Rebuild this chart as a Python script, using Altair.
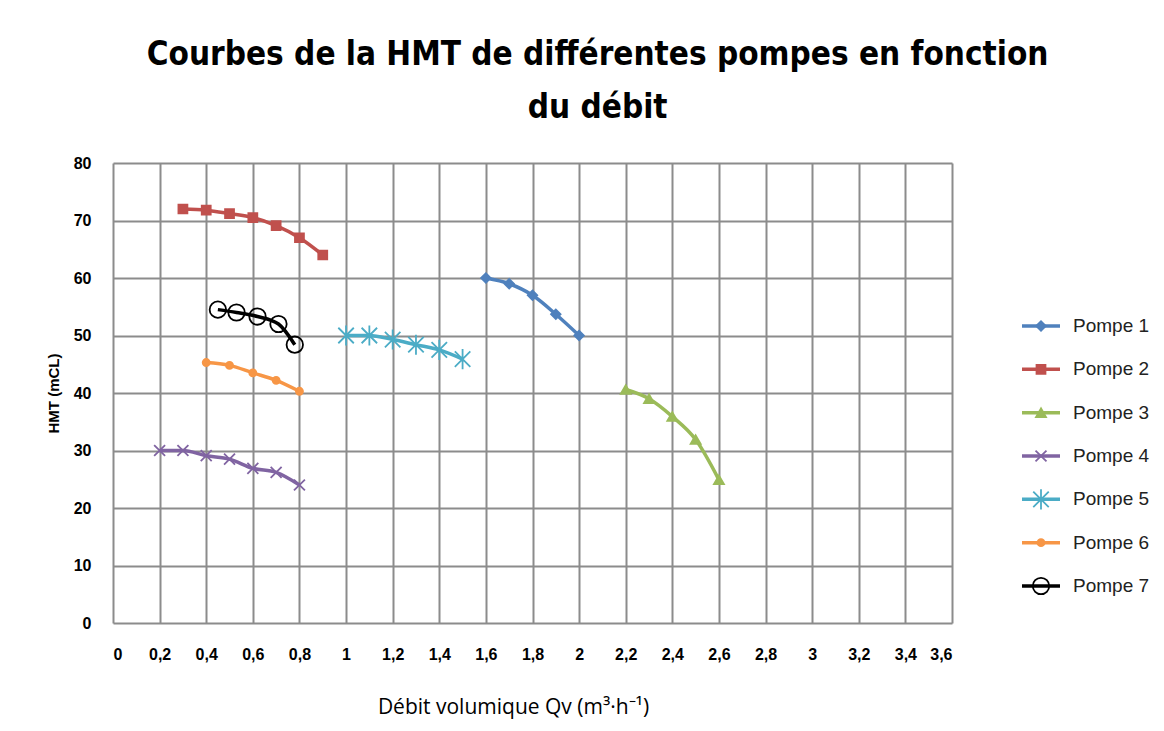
import altair as alt
import pandas as pd

series = ["Pompe 1", "Pompe 2", "Pompe 3", "Pompe 4", "Pompe 5", "Pompe 6", "Pompe 7"]

q1 = [1.6, 1.7, 1.8, 1.9, 2.0]
h1 = [60, 59, 57, 53.7, 50]
q2 = [0.3, 0.4, 0.5, 0.6, 0.7, 0.8, 0.9]
h2 = [72, 71.8, 71.2, 70.5, 69.1, 67, 64]
q3 = [2.2, 2.3, 2.4, 2.5, 2.6]
h3 = [40.6, 39, 35.9, 31.9, 24.9]
q4 = [0.2, 0.3, 0.4, 0.5, 0.6, 0.7, 0.8]
h4 = [30, 30, 29.1, 28.5, 26.9, 26.2, 24]
q5 = [1.0, 1.1, 1.2, 1.3, 1.4, 1.5]
h5 = [50, 50, 49.3, 48.4, 47.5, 45.9]
q6 = [0.4, 0.5, 0.6, 0.7, 0.8]
h6 = [45.3, 44.8, 43.5, 42.2, 40.3]
q7 = [0.45, 0.53, 0.62, 0.71, 0.78]
h7 = [54.5, 54, 53.3, 52, 48.4]

x_ticks = [0, 0.2, 0.4, 0.6, 0.8, 1, 1.2, 1.4, 1.6, 1.8, 2, 2.2, 2.4, 2.6, 2.8, 3, 3.2, 3.4, 3.6]
y_ticks = [0, 10, 20, 30, 40, 50, 60, 70, 80]

colors = ["#4F81BD", "#C0504D", "#9BBB59", "#8064A2", "#4BACC6", "#F79646", "#000000"]
fills = ["#4F81BD", "#C0504D", "#9BBB59", "transparent", "transparent", "#F79646", "transparent"]
x_path = "M-1,-1L1,1M-1,1L1,-1"
star_path = "M-1,-1L1,1M-1,1L1,-1M0,-1.3L0,1.3"
shapes = ["diamond", "square", "triangle-up", x_path, star_path, "circle", "circle"]
sizes = [90, 80, 100, 120, 240, 50, 270]

rows = []
for name, qs, hs in zip(series, [q1, q2, q3, q4, q5, q6, q7], [h1, h2, h3, h4, h5, h6, h7]):
    for q, h in zip(qs, hs):
        rows.append({"series": name, "q": q, "h": h})
df = pd.DataFrame(rows)

color_enc = alt.Color("series:N", scale=alt.Scale(domain=series, range=colors), legend=None)
stroke_enc = alt.Stroke("series:N", scale=alt.Scale(domain=series, range=colors), legend=None)
fill_enc = alt.Fill("series:N", scale=alt.Scale(domain=series, range=fills), legend=None)
shape_enc = alt.Shape("series:N", scale=alt.Scale(domain=series, range=shapes), legend=None)
size_enc = alt.Size("series:N", scale=alt.Scale(type="ordinal", domain=series, range=sizes), legend=None)

x_enc = alt.X(
    "q:Q",
    scale=alt.Scale(domain=[0, 3.6], nice=False, zero=True),
    axis=alt.Axis(
        values=x_ticks,
        labelExpr="replace(format(datum.value, '.1~f'), '.', ',')",
        title="Débit volumique Qv (m³·h⁻¹)",
        titleFont="Open Sans",
        titleFontSize=21,
        titleFontWeight="normal",
        titlePadding=34,
        labelPadding=23,
        titleX=400,
    ),
)
y_enc = alt.Y(
    "h:Q",
    scale=alt.Scale(domain=[0, 80], nice=False),
    axis=alt.Axis(
        values=y_ticks,
        title="HMT (mCL)",
        titleFont="Liberation Sans",
        titleFontSize=15,
        titleFontWeight="bold",
        titlePadding=12,
        labelPadding=22,
    ),
)

base = alt.Chart(df)
lines = base.mark_line(strokeWidth=3.5, interpolate="monotone").encode(
    x=x_enc, y=y_enc, color=color_enc, detail="series:N"
)
points = base.mark_point(strokeWidth=1.8, opacity=1).encode(
    x=x_enc, y=y_enc, shape=shape_enc, fill=fill_enc, stroke=stroke_enc, size=size_enc
)
main = alt.layer(lines, points).properties(width=839, height=460)

leg_df = pd.DataFrame({"series": series})
leg_y = alt.Y("series:N", scale=alt.Scale(type="point", domain=series, range=[163, 423], padding=0), axis=None)
leg_rule = alt.Chart(leg_df).mark_rule(strokeWidth=3.5).encode(
    x=alt.value(50), x2=alt.value(88), y=leg_y, color=color_enc
)
leg_pts = alt.Chart(leg_df).mark_point(strokeWidth=1.8, opacity=1).encode(
    x=alt.value(69), y=leg_y, shape=shape_enc, fill=fill_enc, stroke=stroke_enc, size=size_enc
)
leg_txt = alt.Chart(leg_df).mark_text(align="left", baseline="middle", fontSize=19, font="Liberation Sans", color="#222").encode(
    x=alt.value(101), y=leg_y, text="series:N"
)
legend = alt.layer(leg_rule, leg_pts, leg_txt).properties(width=170, height=460)

chart = alt.hconcat(main, legend, spacing=20).properties(
    title=alt.TitleParams(
        ["Courbes de la HMT de différentes pompes en fonction", "du débit"],
        anchor="middle",
        font="DejaVu Sans Condensed, Liberation Sans, sans-serif",
        fontSize=33,
        fontWeight="bold",
        lineHeight=53,
        offset=30,
        color="#000",
    ),
    padding={"left": 38, "top": 31, "right": 0, "bottom": 6},
    background="white",
).configure_view(stroke=None).configure_axis(
    grid=True,
    gridColor="#8c8c8c",
    gridWidth=2,
    domain=False,
    ticks=False,
    labelFont="Liberation Sans",
    labelFontSize=16,
    labelFontWeight="bold",
    labelColor="#000",
    titleColor="#000",
)

chart.save("out.html", embed_options={"renderer": "svg", "actions": False})
